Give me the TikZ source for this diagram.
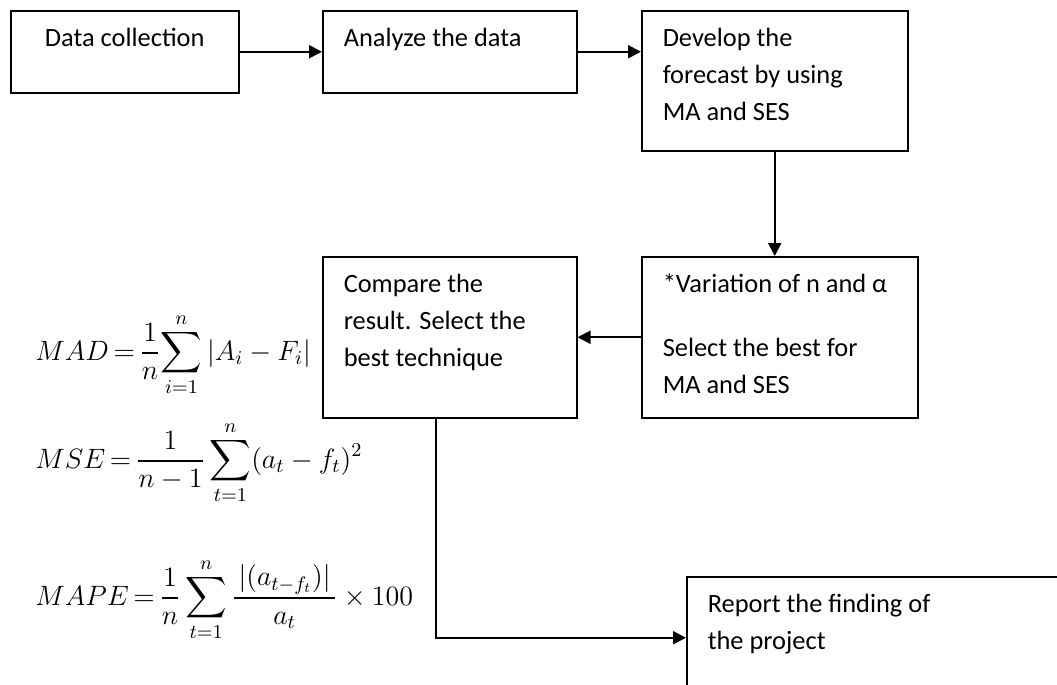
\RequirePackage{fix-cm}
\documentclass[tikz,border=0pt]{standalone}
\usepackage{amsmath}
\usepackage{fontspec}
\setmainfont{Carlito}
\usetikzlibrary{arrows.meta}

\newcommand{\boxfont}{\fontsize{13.2}{18.5}\selectfont}
\newcommand{\formulafont}{\fontsize{14}{17}\selectfont\thickmuskip=3mu plus 2mu\relax}
\newcommand{\boxtext}[3]{\parbox[t][#2][t]{#1}{\raggedright\leftskip=10.5pt\relax
  \vspace*{5pt}\strut #3}}

\begin{document}
\begin{tikzpicture}[x=0.5pt,y=-0.5pt,
    stepbox/.style={draw, line width=0.75pt, anchor=north west, inner sep=0pt, font=\boxfont},
    formula/.style={anchor=base west, inner sep=0pt, font=\formulafont},
    flow/.style={line width=1pt, -{Triangle[length=6.5pt,width=6.5pt]}}]
  \useasboundingbox (0,0) rectangle (1057,685);
  \clip (0,0) rectangle (1057,685);
  \draw
    (10,10) node[stepbox] (data){\boxtext{114pt}{41pt}{\centering Data collection}}
    (322,10) node[stepbox] (analyze){\boxtext{127pt}{41pt}{Analyze the data}}
    (641,10) node[stepbox] (develop){\boxtext{133pt}{70pt}{Develop the\\ forecast by using\\ MA and SES}}
    (641,256) node[stepbox] (variation){\boxtext{138pt}{80.5pt}{*Variation of n and α\\[13.5pt] Select the best for\\ MA and SES}}
    (322,256) node[stepbox] (compare){\boxtext{127pt}{80.5pt}{Compare the\\ result. Select the\\ best technique}}
    (686,576) node[stepbox] (report){\boxtext{200pt}{61pt}{Report the finding of\\ the project}};
  \draw
    (35,360) node[formula] (mad){$\displaystyle MAD=\frac{1}{n}\!\sum_{i=1}^{n}|A_i-F_i|$}
    (35,468) node[formula] (mse){$\displaystyle MSE=\frac{1}{n-1}\sum_{t=1}^{n}(a_t-f_t)^2$}
    (35,605) node[formula] (mape){$\displaystyle MAPE=\frac{1}{n}\sum_{t=1}^{n}\frac{\,|(a_{t-f_t})|\,}{a_t}\times 100$};
  \begin{scope}[flow]
    \draw (data) -- (analyze);
    \draw (analyze.east) -- (analyze.east -| develop.west);
    \draw (develop.south) -- (develop.south |- variation.north);
    \draw (variation.west) -- (variation.west -| compare.east);
    \draw ([xshift=-7pt]compare.south) |- (report.west);
  \end{scope}
\end{tikzpicture}
\end{document}
